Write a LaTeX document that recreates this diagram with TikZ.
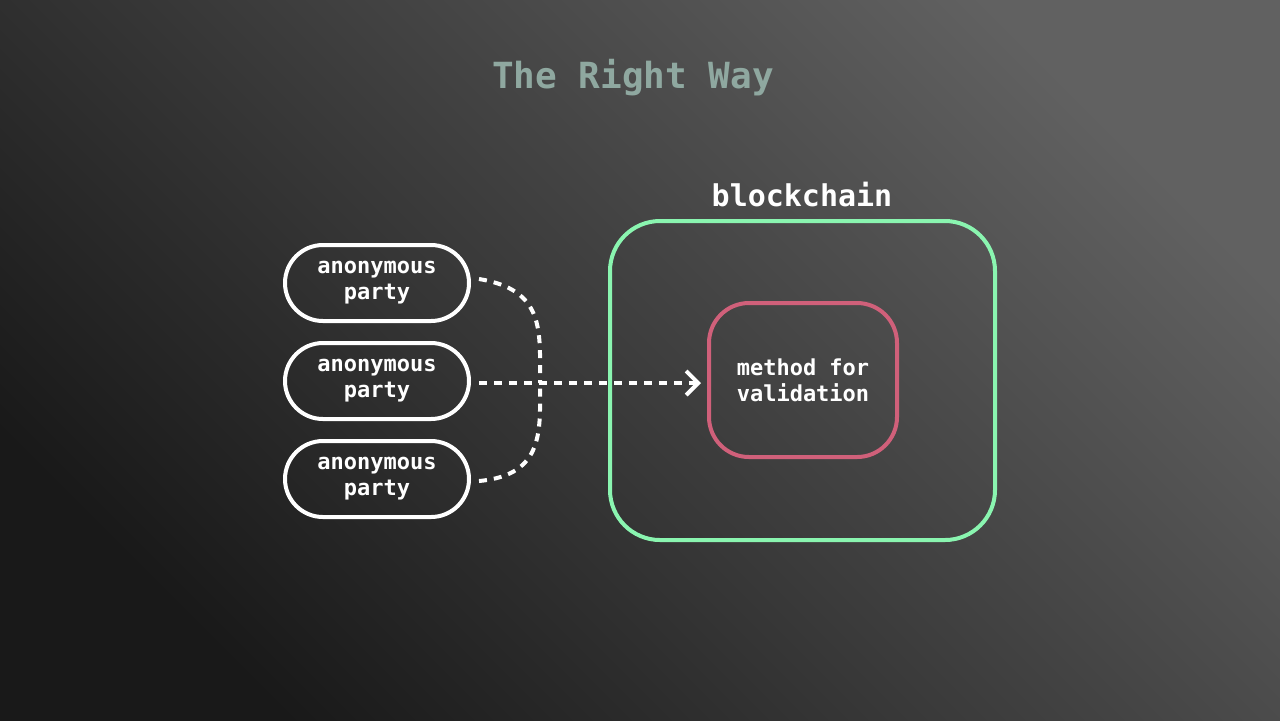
\documentclass[tikz,border=0pt]{standalone}
\usepackage{fontspec}
\setmonofont{DejaVu Sans Mono}
\usetikzlibrary{arrows.meta}
\definecolor{titlecol}{HTML}{8FA8A0}
\definecolor{chaingreen}{HTML}{8AF5B0}
\definecolor{validpink}{HTML}{D0607A}
\tikzset{
  party/.style={draw=white, line width=2pt, rounded corners=19pt, minimum width=92pt, minimum height=38pt, text=white, align=center, font=\ttfamily\bfseries\fontsize{11}{13}\selectfont, inner sep=0pt},
  link/.style={white, line width=2pt, dash pattern=on 4pt off 3.5pt}
}
\begin{document}
\begin{tikzpicture}[x=0.5pt, y=-0.5pt]
  % background
  \shade[shading=axis, left color=black!90, right color=black!62, shading angle=135] (0,0) rectangle (1280,720);
  \useasboundingbox (0,0) rectangle (1280,720);
  \node[text=titlecol, font=\ttfamily\bfseries\fontsize{18}{20}\selectfont] (title) at (633,78) {The Right Way};
  % blockchain
  \draw[chaingreen, line width=2pt, rounded corners=25pt] (610,221) rectangle (995,540);
  \node[text=white, font=\ttfamily\bfseries\fontsize{15}{17}\selectfont] (chain) at (802,195) {blockchain};
  \node[draw=validpink, line width=2pt, rounded corners=20pt, minimum width=94pt, minimum height=77pt, text=white, align=center, font=\ttfamily\bfseries\fontsize{11}{13}\selectfont, inner sep=0pt] (valid) at (803,380) {method for\\validation};
  % parties
  \node[party] (p1) at (377,283) {anonymous\\party};
  \node[party] (p2) at (377,381) {anonymous\\party};
  \node[party] (p3) at (377,479) {anonymous\\party};
  \coordinate (join) at (540,383);
  \draw[link] ([xshift=4pt,yshift=2pt]p1.east) .. controls (545,290) and (540,330) .. (join);
  \draw[link] ([xshift=4pt,yshift=-1pt]p3.east) .. controls (545,475) and (540,430) .. (join);
  \draw[link, -{Straight Barb[length=6pt, width=12pt, line width=2pt]}] ([xshift=4pt,yshift=-1pt]p2.east) -- ([xshift=-3pt]valid.west |- join);
\end{tikzpicture}
\end{document}
